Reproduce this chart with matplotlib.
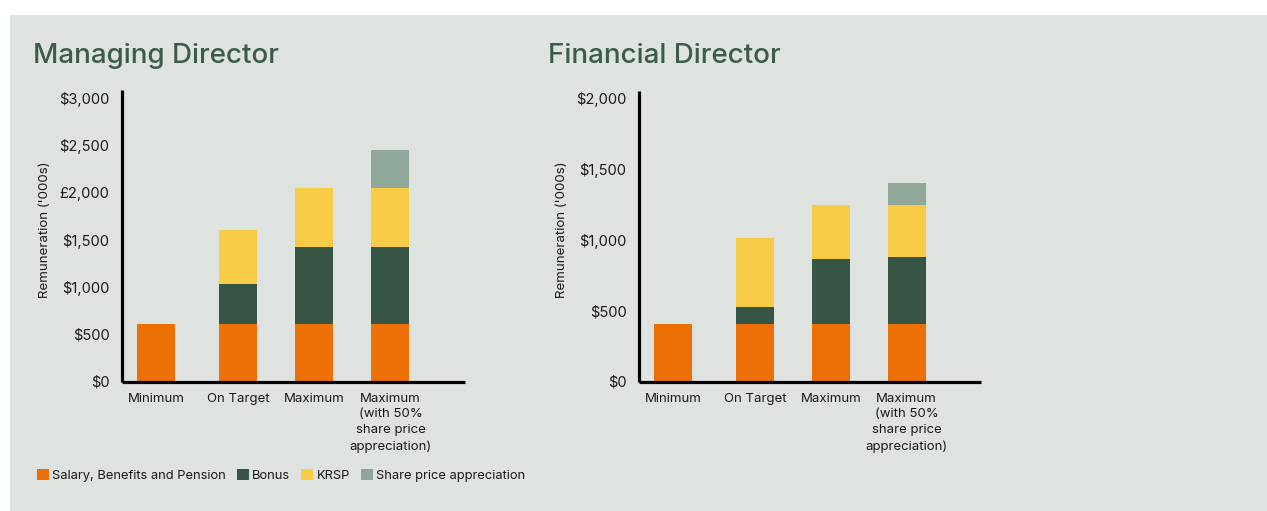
import matplotlib
matplotlib.use("Agg")
import matplotlib.pyplot as plt
from matplotlib.patches import Rectangle, Patch

plt.rcParams['font.family'] = ['Inter', 'DejaVu Sans']

# Scenario categories
categories = ["Minimum", "On Target", "Maximum",
              "Maximum\n(with 50%\nshare price\nappreciation)"]
components = ["Salary, Benefits and Pension", "Bonus", "KRSP",
              "Share price appreciation"]

# Managing Director remuneration ($'000s)
md_salary = [605, 605, 605, 605]
md_bonus = [0, 425, 815, 815]
md_krsp = [0, 570, 625, 625]
md_share = [0, 0, 0, 400]
md_ticks = [0, 500, 1000, 1500, 2000, 2500, 3000]
md_ticklabels = ["$0", "$500", "$1,000", "$1,500", "£2,000", "$2,500", "$3,000"]

# Financial Director remuneration ($'000s)
fd_salary = [405, 405, 405, 405]
fd_bonus = [0, 120, 455, 470]
fd_krsp = [0, 485, 380, 365]
fd_share = [0, 0, 0, 160]
fd_ticks = [0, 500, 1000, 1500, 2000]
fd_ticklabels = ["$0", "$500", "$1,000", "$1,500", "$2,000"]

colors = ["#ec7005", "#375544", "#f8cb46", "#8fa89a"]
title_color = "#3a5c48"
text_color = "#1a1a1a"
bg = "#dfe3df"

W, H = 1267, 511
fig = plt.figure(figsize=(W / 100, H / 100), dpi=100)
fig.patch.set_facecolor("white")
fig.patches.append(Rectangle((10 / W, 0), (W - 10) / W, (H - 15) / H,
                             transform=fig.transFigure, facecolor=bg,
                             edgecolor="none", zorder=-10))

xpos = [0, 1.08, 2.08, 3.08]


def px_axes(x0, x1, ytop, ybot):
    return fig.add_axes([x0 / W, (H - ybot) / H, (x1 - x0) / W, (ybot - ytop) / H])


def draw(ax, series, ticks, ticklabels, ytop):
    bottom = [0] * len(categories)
    for vals, c in zip(series, colors):
        ax.bar(xpos, vals, width=0.5, bottom=bottom, color=c, linewidth=0)
        bottom = [b + v for b, v in zip(bottom, vals)]
    ax.set_facecolor("none")
    ax.set_xlim(-0.447, 4.06)
    ax.set_ylim(0, ytop)
    ax.set_yticks(ticks)
    ax.set_yticklabels(ticklabels)
    ax.set_xticks(xpos)
    ax.set_xticklabels(categories, fontsize=9.5, linespacing=1.42, color=text_color)
    ax.tick_params(axis="both", length=0, colors=text_color)
    ax.tick_params(axis="x", pad=8, labelsize=9.5)
    ax.tick_params(axis="y", pad=9, labelsize=10.6)
    for s in ("top", "right"):
        ax.spines[s].set_visible(False)
    for s in ("left", "bottom"):
        ax.spines[s].set_linewidth(2.3)
        ax.spines[s].set_color("black")
        ax.spines[s].set_capstyle("butt")
    ax.set_ylabel("Remuneration ('000s)", fontsize=9.6, color=text_color)


ax1 = px_axes(122, 465, 90, 381.5)
draw(ax1, [md_salary, md_bonus, md_krsp, md_share], md_ticks, md_ticklabels, 3080)
ax2 = px_axes(639, 981, 90.5, 381.5)
draw(ax2, [fd_salary, fd_bonus, fd_krsp, fd_share], fd_ticks, fd_ticklabels, 2050)

# place the y-axis titles at fixed pixel offsets left of each axis
ax1.yaxis.set_label_coords((45 - 122) / (465 - 122), 0.52)
ax2.yaxis.set_label_coords((562 - 639) / (981 - 639), 0.52)
for ax in (ax1, ax2):
    ax.yaxis.label.set_va("center")

fig.text(33 / W, (H - 63) / H, "Managing Director", fontsize=20, color=title_color,
         fontweight="medium", va="baseline", ha="left")
fig.text(548 / W, (H - 63) / H, "Financial Director", fontsize=20, color=title_color,
         fontweight="medium", va="baseline", ha="left")

handles = [Patch(facecolor=c, edgecolor="none") for c in colors]
fig.legend(handles, components, loc="center left", bbox_to_anchor=(37 / W, (H - 475.5) / H),
           ncol=4, frameon=False, fontsize=9.3, handlelength=0.9, handleheight=0.9,
           handletextpad=0.28, columnspacing=0.85, borderpad=0, borderaxespad=0,
           labelcolor=text_color)

fig.savefig("out.png", dpi=100, facecolor="white")
